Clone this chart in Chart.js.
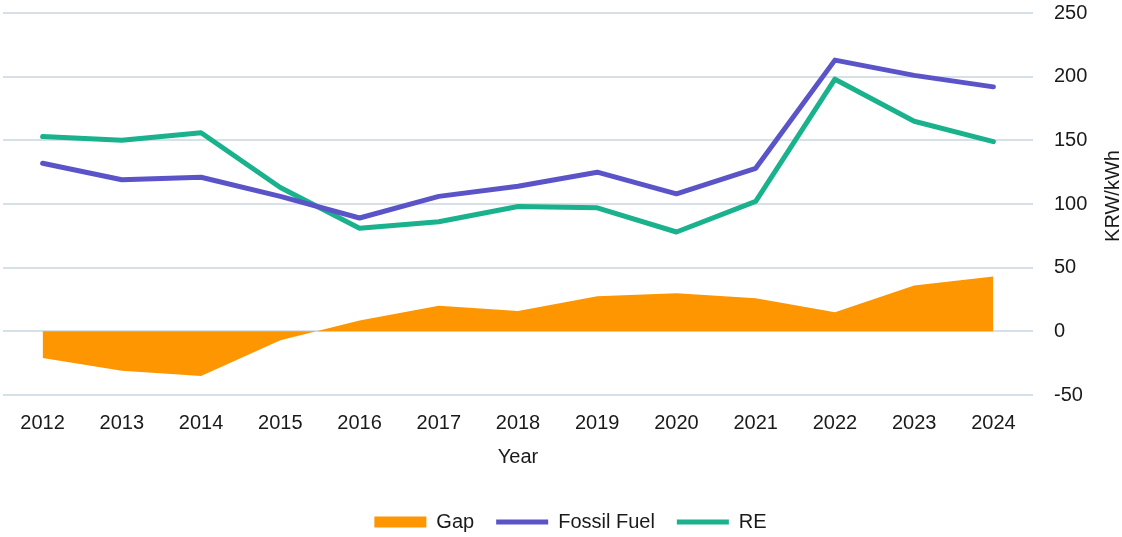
<!DOCTYPE html>
<html>
<head>
<meta charset="utf-8">
<script src="https://cdn.jsdelivr.net/npm/chart.js@4"></script>
<style>
  html, body { margin: 0; padding: 0; background: #fff; }
  #wrap { width: 1122px; height: 537px; }
</style>
</head>
<body>
<div id="wrap"><canvas id="chart" width="1122" height="537"></canvas></div>
<script>
const years = ["2012", "2013", "2014", "2015", "2016", "2017", "2018", "2019", "2020", "2021", "2022", "2023", "2024"];
const fossilFuel = [132, 119, 121, 106, 89, 106, 114, 125, 108, 128, 213, 201, 192];
const re = [153, 150, 156, 113, 81, 86, 98, 97, 78, 102, 198, 165, 149];
const gap = [-21, -31, -35, -7, 8.5, 20, 16, 27.5, 30, 26, 15, 36, 43];
const yTicks = [-50, 0, 50, 100, 150, 200, 250];

const textColor = "#1a1a1a";
const gridColor = "#d6e0e9";
const fontFamily = "'Liberation Sans', Arial, sans-serif";

// right-hand axis title, reads bottom to top like the original
const yTitle = {
    id: "yTitle",
    afterLayout(chart) {
        // nudge the legend a little to the right
        chart.legend.left += 8;
        chart.legend.right += 8;
    },
    afterDraw(chart) {
        const ctx = chart.ctx;
        ctx.save();
        ctx.translate(1113, 196);
        ctx.rotate(-Math.PI / 2);
        ctx.fillStyle = textColor;
        ctx.font = "20px " + fontFamily;
        ctx.textAlign = "center";
        ctx.textBaseline = "middle";
        ctx.fillText("KRW/kWh", 0, 0);
        ctx.restore();
    }
};

new Chart(document.getElementById("chart"), {
    type: "line",
    data: {
        labels: years,
        datasets: [{
            label: "Gap",
            data: gap,
            fill: "origin",
            backgroundColor: "#fe9602",
            borderColor: "#fe9602",
            borderWidth: 0,
            pointRadius: 0,
            tension: 0,
            pointStyle: "rect"
        }, {
            label: "Fossil Fuel",
            data: fossilFuel,
            fill: false,
            borderColor: "#5b54c9",
            backgroundColor: "#5b54c9",
            borderWidth: 5,
            borderCapStyle: "round",
            borderJoinStyle: "round",
            pointRadius: 0,
            tension: 0,
            pointStyle: "line"
        }, {
            label: "RE",
            data: re,
            fill: false,
            borderColor: "#19b28d",
            backgroundColor: "#19b28d",
            borderWidth: 5,
            borderCapStyle: "round",
            borderJoinStyle: "round",
            pointRadius: 0,
            tension: 0,
            pointStyle: "line"
        }]
    },
    options: {
        responsive: false,
        animation: false,
        layout: {
            padding: { left: 3, top: 13, right: 0, bottom: -5 }
        },
        font: { family: fontFamily },
        plugins: {
            filler: { drawTime: "beforeDatasetsDraw" },
            tooltip: { enabled: false },
            legend: {
                position: "bottom",
                labels: {
                    color: textColor,
                    font: { size: 20, family: fontFamily },
                    usePointStyle: true,
                    pointStyleWidth: 52,
                    boxHeight: 11,
                    padding: 22
                }
            }
        },
        scales: {
            x: {
                offset: true,
                grid: { display: false, drawTicks: false },
                border: { display: false },
                ticks: {
                    color: textColor,
                    padding: 16,
                    font: { size: 20, family: fontFamily }
                },
                title: {
                    display: true,
                    text: "Year",
                    color: textColor,
                    padding: { top: -6, bottom: 21 },
                    font: { size: 20, family: fontFamily }
                }
            },
            y: {
                position: "right",
                min: -50,
                max: 250,
                afterBuildTicks(scale) {
                    scale.ticks = yTicks.map(v => ({ value: v }));
                },
                afterFit(scale) {
                    scale.width = 89;
                },
                grid: {
                    color: gridColor,
                    lineWidth: 2,
                    drawTicks: true,
                    tickLength: 21,
                    tickColor: "rgba(0,0,0,0)"
                },
                border: { display: false },
                ticks: {
                    color: textColor,
                    padding: 0,
                    font: { size: 20, family: fontFamily }
                }
            }
        }
    },
    plugins: [yTitle]
});
</script>
</body>
</html>
